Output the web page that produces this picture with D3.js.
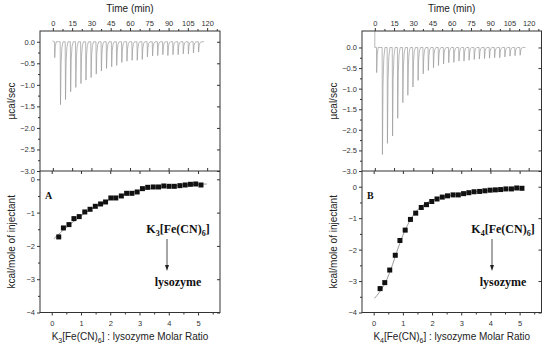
<!DOCTYPE html>
<html>
<head>
<meta charset="utf-8">
<script type="text/javascript" src="https://d3js.org/d3.v7.min.js"></script>
<style type="text/css">
    body { margin: 0; background: #fff; }
    svg { display: block; }
    .tick text { font-family: "Liberation Sans", Arial, sans-serif; font-size: 7.5px; fill: #333; }
    .tick line { stroke: #333; }
    .ttl { font-family: "Liberation Sans", Arial, sans-serif; font-size: 10px; fill: #222; }
    .bold { font-family: "Liberation Serif", "Times New Roman", serif; font-weight: bold; fill: #111; }
</style>
</head>
<body>
<script type="text/javascript">
// injection times (min), same protocol for both runs
var injTimes = [5.7, 9.6, 13.6, 17.6, 21.6, 25.5, 29.5, 33.5, 37.5, 41.5, 45.5, 49.4, 53.4, 57.4,
                61.4, 65.4, 69.3, 73.3, 77.3, 81.3, 85.3, 89.2, 93.2, 97.2, 101.2, 105.2, 109.1, 113.1];
var timeTicks = [0, 15, 30, 45, 60, 75, 90, 105, 120];
var rawTicks = [0, -0.5, -1, -1.5, -2, -2.5, -3];
var heatTicks = [0, -1, -2, -3, -4];
var ratioTicks = [0, 1, 2, 3, 4, 5];

// panel A : K3[Fe(CN)6]
var peaksA = [-1.46, -1.34, -1.16, -1.06, -0.97, -0.89, -0.83, -0.75, -0.68, -0.62, -0.58, -0.55, -0.48, -0.45,
              -0.43, -0.43, -0.41, -0.35, -0.33, -0.32, -0.30, -0.32, -0.30, -0.30, -0.28, -0.28, -0.26, -0.24];
var firstPeakA = -0.37;
var ratioA = [0.24, 0.40, 0.59, 0.76, 0.94, 1.13, 1.31, 1.49, 1.67, 1.84, 2.02, 2.19, 2.38, 2.56,
              2.74, 2.92, 3.10, 3.28, 3.47, 3.65, 3.83, 4.01, 4.19, 4.38, 4.56, 4.74, 4.92, 5.10];
var heatA = [-1.73, -1.46, -1.36, -1.18, -1.12, -0.98, -0.90, -0.81, -0.74, -0.68, -0.56, -0.56, -0.50, -0.42,
             -0.42, -0.38, -0.28, -0.24, -0.23, -0.23, -0.20, -0.21, -0.21, -0.19, -0.17, -0.15, -0.14, -0.17];
var fitA = [[0.08, -1.78], [0.3, -1.6], [0.6, -1.37], [1.0, -1.1], [1.5, -0.82], [2.0, -0.6], [2.5, -0.45],
            [3.0, -0.34], [3.5, -0.26], [4.0, -0.21], [4.5, -0.17], [5.0, -0.15], [5.3, -0.14]];

// panel B : K4[Fe(CN)6]
var peaksB = [-2.6, -2.33, -2.15, -1.72, -1.34, -1.16, -0.96, -0.80, -0.64, -0.56, -0.49, -0.44, -0.40, -0.37,
              -0.36, -0.33, -0.33, -0.31, -0.29, -0.28, -0.27, -0.26, -0.25, -0.25, -0.23, -0.21, -0.20, -0.19];
var firstPeakB = -0.61;
var ratioB = [0.22, 0.38, 0.55, 0.74, 0.90, 1.08, 1.26, 1.44, 1.63, 1.81, 1.99, 2.17, 2.35, 2.53,
              2.72, 2.90, 3.08, 3.26, 3.44, 3.63, 3.81, 3.99, 4.17, 4.35, 4.53, 4.72, 4.90, 5.08];
var heatB = [-3.24, -3.05, -2.65, -2.18, -1.71, -1.38, -1.04, -0.84, -0.66, -0.57, -0.47, -0.39, -0.33, -0.29,
             -0.26, -0.26, -0.22, -0.19, -0.16, -0.15, -0.13, -0.11, -0.10, -0.09, -0.07, -0.07, -0.04, -0.05];
var fitB = [[0.03, -3.55], [0.2, -3.35], [0.4, -3.05], [0.6, -2.6], [0.8, -2.05], [1.0, -1.55], [1.2, -1.15],
            [1.4, -0.85], [1.6, -0.65], [1.8, -0.52], [2.0, -0.43], [2.5, -0.3], [3.0, -0.22], [3.5, -0.16],
            [4.0, -0.12], [4.5, -0.09], [5.0, -0.07], [5.1, -0.06]];

var svg = d3.select("body").append("svg").attr("width", 550).attr("height", 348);

var top0 = 31, mid = 171, bot = 312.5;

function drawPanel(o)
{
    var g = svg.append("g");
    var x = d3.scaleLinear().domain([-10, 130]).range([o.left, o.right]);
    var y = d3.scaleLinear().domain(o.rawDom).range([mid, top0]);
    var xr = d3.scaleLinear().domain([-0.4, 5.75]).range([o.left, o.right]);
    var yh = d3.scaleLinear().domain(o.heatDom).range([bot, mid]);

    // thermogram
    var pts = [[0, 0.03], [0.5, 0], [1.3, 0], [1.45, o.firstPeak], [1.9, o.firstPeak * 0.3], [2.6, 0]];
    if (o.startLine) pts = [[0, o.rawDom[1]], [0, 0], [1.3, 0], [1.45, o.firstPeak], [1.9, o.firstPeak * 0.3], [2.6, 0]];
    for (var i = 0; i < injTimes.length; i++) {
        var t = injTimes[i], p = o.peaks[i];
        pts.push([t, 0], [t + 0.25, p], [t + 0.7, p * 0.35], [t + 1.3, p * 0.1], [t + 2.2, 0]);
    }
    pts.push([117.5, 0]);
    g.append("path")
        .attr("d", d3.line().x(function(d){ return x(d[0]); }).y(function(d){ return y(d[1]); })(pts))
        .attr("fill", "none")
        .attr("stroke", "#999")
        .attr("stroke-width", 0.7);

    // fit + squares
    g.append("path")
        .attr("d", d3.line().curve(d3.curveMonotoneX).x(function(d){ return xr(d[0]); }).y(function(d){ return yh(d[1]); })(o.fit))
        .attr("fill", "none")
        .attr("stroke", "#9a9a9a")
        .attr("stroke-width", 1);
    g.selectAll("rect.pt")
        .data(o.ratio)
        .enter().append("rect")
        .attr("class", "pt")
        .attr("x", function(d){ return xr(d) - 2.5; })
        .attr("y", function(d, i){ return yh(o.heat[i]) - 2.5; })
        .attr("width", 5)
        .attr("height", 5)
        .attr("fill", "#111");

    // axes
    var fmt1 = d3.format(".1f"), fmt0 = d3.format("d");
    g.append("g").attr("transform", "translate(0," + top0 + ")")
        .call(d3.axisTop(x).tickValues(timeTicks).tickSize(3).tickPadding(2));
    g.append("g").attr("transform", "translate(0," + top0 + ")")
        .call(d3.axisTop(x).tickValues(d3.range(7.5, 130, 15)).tickSize(2).tickFormat(""));
    g.append("g").attr("transform", "translate(0," + mid + ")")
        .call(d3.axisTop(x).tickValues(timeTicks).tickSize(3).tickFormat(""));
    g.append("g").attr("transform", "translate(" + o.left + ",0)")
        .call(d3.axisLeft(y).tickValues(rawTicks).tickSize(3).tickPadding(2).tickFormat(fmt1));
    g.append("g").attr("transform", "translate(" + o.left + ",0)")
        .call(d3.axisLeft(y).tickValues([-2.75, -2.25, -1.75, -1.25, -0.75, -0.25]).tickSize(2).tickFormat(""));
    g.append("g").attr("transform", "translate(" + o.right + ",0)")
        .call(d3.axisLeft(y).tickValues(rawTicks).tickSize(3).tickFormat(""));

    g.append("g").attr("transform", "translate(0," + bot + ")")
        .call(d3.axisBottom(xr).tickValues(ratioTicks).tickSize(3).tickPadding(5).tickFormat(fmt0));
    g.append("g").attr("transform", "translate(0," + bot + ")")
        .call(d3.axisBottom(xr).tickValues([0.5, 1.5, 2.5, 3.5, 4.5, 5.5]).tickSize(2).tickFormat(""));
    g.append("g").attr("transform", "translate(0," + mid + ")")
        .call(d3.axisBottom(xr).tickValues(ratioTicks).tickSize(3).tickFormat(""));
    g.append("g").attr("transform", "translate(" + o.left + ",0)")
        .call(d3.axisLeft(yh).tickValues(heatTicks).tickSize(3).tickPadding(2).tickFormat(fmt0));
    g.append("g").attr("transform", "translate(" + o.left + ",0)")
        .call(d3.axisLeft(yh).tickValues([-3.5, -2.5, -1.5, -0.5]).tickSize(2).tickFormat(""));
    g.append("g").attr("transform", "translate(" + o.right + ",0)")
        .call(d3.axisLeft(yh).tickValues(heatTicks).tickSize(3).tickFormat(""));

    g.selectAll(".domain").remove();

    // frames
    g.append("rect").attr("x", o.left).attr("y", top0).attr("width", o.right - o.left).attr("height", bot - top0)
        .attr("fill", "none").attr("stroke", "#333").attr("stroke-width", 1);
    g.append("line").attr("x1", o.left).attr("x2", o.right).attr("y1", mid).attr("y2", mid)
        .attr("stroke", "#333").attr("stroke-width", 1);

    // titles
    var cx = (o.left + o.right) / 2;
    g.append("text").attr("class", "ttl").attr("x", cx).attr("y", 12).attr("text-anchor", "middle").text("Time (min)");
    g.append("text").attr("class", "ttl").attr("text-anchor", "middle")
        .attr("transform", "translate(" + (o.left - 25) + "," + ((top0 + mid) / 2) + ") rotate(-90)")
        .text("\u00b5cal/sec");
    g.append("text").attr("class", "ttl").attr("text-anchor", "middle")
        .attr("transform", "translate(" + (o.left - 25) + "," + ((mid + bot) / 2) + ") rotate(-90)")
        .text("kcal/mole of injectant");

    var xl = g.append("text").attr("class", "ttl").attr("x", cx).attr("y", 340).attr("text-anchor", "middle");
    xl.append("tspan").text("K");
    xl.append("tspan").attr("dy", 2.5).attr("font-size", "7px").text(o.n);
    xl.append("tspan").attr("dy", -2.5).text("[Fe(CN)");
    xl.append("tspan").attr("dy", 2.5).attr("font-size", "7px").text("6");
    xl.append("tspan").attr("dy", -2.5).text("] : lysozyme Molar Ratio");

    // annotations
    g.append("text").attr("class", "bold").attr("font-size", "10px")
        .attr("x", o.left + 5).attr("y", 199).text(o.letter);
    var k = g.append("text").attr("class", "bold").attr("font-size", "12px")
        .attr("x", o.annX).attr("y", 233).attr("text-anchor", "middle");
    k.append("tspan").text("K");
    k.append("tspan").attr("dy", 3).attr("font-size", "8px").text(o.n);
    k.append("tspan").attr("dy", -3).text("[Fe(CN)");
    k.append("tspan").attr("dy", 3).attr("font-size", "8px").text("6");
    k.append("tspan").attr("dy", -3).text("]");
    g.append("line").attr("x1", o.annX - 11).attr("x2", o.annX - 11).attr("y1", 239).attr("y2", 266)
        .attr("stroke", "#222").attr("stroke-width", 0.8);
    g.append("path")
        .attr("d", "M" + (o.annX - 13) + ",265 L" + (o.annX - 9) + ",265 L" + (o.annX - 11) + ",271 Z")
        .attr("fill", "#222");
    g.append("text").attr("class", "bold").attr("font-size", "12px")
        .attr("x", o.annX).attr("y", 286).attr("text-anchor", "middle").text("lysozyme");
}

drawPanel({left: 40, right: 220, rawDom: [-3, 0.25], heatDom: [-4, 0.25], peaks: peaksA, firstPeak: firstPeakA,
           ratio: ratioA, heat: heatA, fit: fitA, letter: "A", n: "3", annX: 178, startLine: false});
drawPanel({left: 362, right: 541.5, rawDom: [-3, 0.4], heatDom: [-4, 0.5], peaks: peaksB, firstPeak: firstPeakB,
           ratio: ratioB, heat: heatB, fit: fitB, letter: "B", n: "4", annX: 503, startLine: true});
</script>
</body>
</html>
